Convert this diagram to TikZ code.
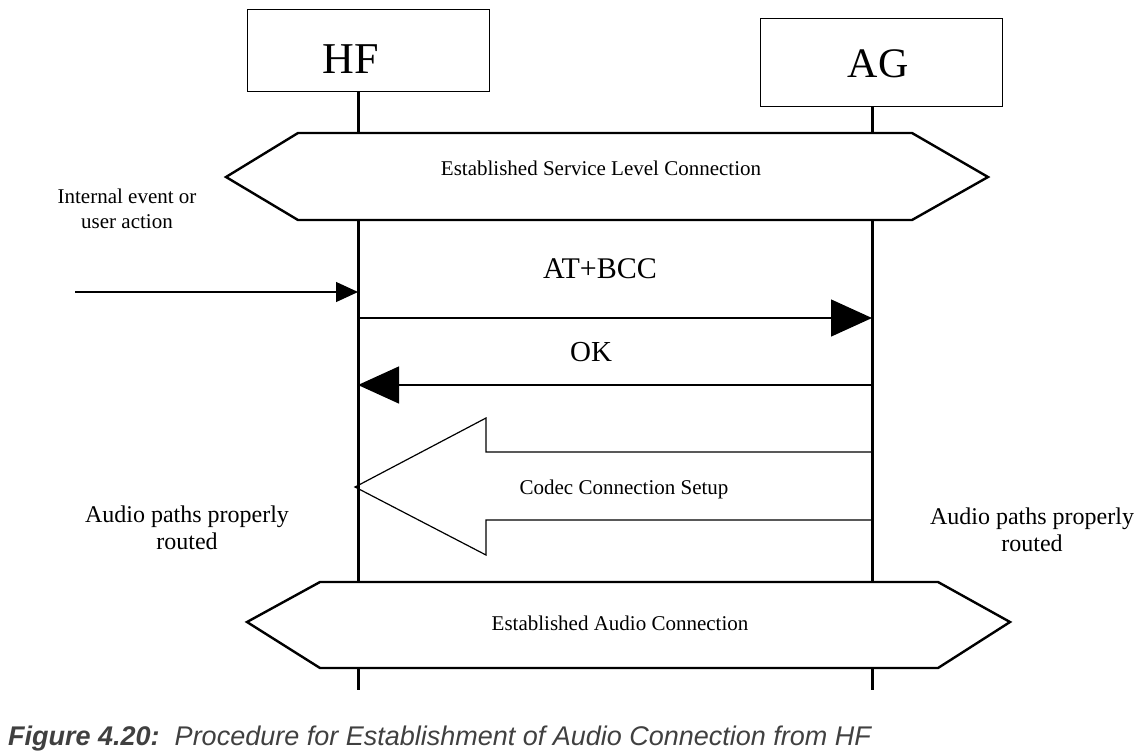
\documentclass[tikz,border=0pt]{standalone}
\usepackage{fontspec}
\setmainfont{Liberation Serif}
\newfontfamily\capfont{Liberation Sans}
\usetikzlibrary{arrows.meta}
\definecolor{capgray}{HTML}{404040}
\tikzset{
  entity/.style={draw, line width=1pt, minimum width=242pt, inner sep=0pt},
  lifeline/.style={line width=3pt},
  hexa/.style={draw, line width=2.4pt, fill=white, line join=miter},
  msg/.style={line width=1.4pt, -{Triangle[length=41pt,width=37pt]}},
  inmsg/.style={line width=1.2pt, -{Triangle[length=22pt,width=20pt]}},
  bigarrow/.style={draw, line width=1.2pt, line join=miter},
  lbl/.style={anchor=base, inner sep=0pt, font=\fontsize{21}{25}\selectfont},
  biglbl/.style={anchor=base, inner sep=0pt, font=\fontsize{30}{34}\selectfont},
  side/.style={anchor=base, inner sep=0pt, align=center, font=\fontsize{24}{27}\selectfont},
}
\begin{document}
\begin{tikzpicture}[x=1pt,y=-1pt]
\useasboundingbox (0,0) rectangle (1142,753);
% entity boxes
\node[entity, minimum height=82pt, anchor=north west] (hfbox) at (247,9) {};
\node[entity, minimum height=88pt, anchor=north west] (agbox) at (760,18) {};
\node[anchor=base, inner sep=0pt, font=\fontsize{44}{48}\selectfont] (hflbl) at (351,73) {HF};
\node[anchor=base, inner sep=0pt, font=\fontsize{42}{46}\selectfont] (aglbl) at (878,77) {AG};
% lifelines
\coordinate (hfend) at (358,690);
\coordinate (agend) at (872,690);
\draw[lifeline] (hfbox.south -| hfend) -- (hfend);
\draw[lifeline] (agbox.south -| agend) -- (agend);
% top hexagon
\path[hexa] (226,177) -- (298,133) -- (912,133) -- (988,177) -- (912,220) -- (298,220) -- cycle;
\node[lbl] (slc) at (601,175) {Established Service Level Connection};
% internal event
\node[side, font=\fontsize{21}{25}\selectfont] (ievent) at (127,228) {Internal event or\\user action};
\coordinate (instart) at (75,292);
\coordinate (hfin) at (358,292);
\draw[inmsg] (instart) -- (hfin);
% AT+BCC
\node[biglbl] (atbcc) at (600,278) {AT+BCC};
\coordinate (hf1) at (358,318);
\coordinate (ag1) at (872,318);
\draw[msg] (hf1) -- (ag1);
% OK
\node[biglbl, font=\fontsize{29}{33}\selectfont] (ok) at (591,361) {OK};
\coordinate (ag2) at (872,385);
\coordinate (hf2) at (358,385);
\draw[msg] (ag2) -- (hf2);
% codec connection setup big arrow
\path[bigarrow] (872,452) -- (486,452) -- (486,418) -- (355,487) -- (486,555) -- (486,520) -- (872,520);
\node[lbl] (codec) at (624,494) {Codec Connection Setup};
% audio paths
\node[side] (apl) at (187,549) {Audio paths properly\\routed};
\node[side] (apr) at (1032,551) {Audio paths properly\\routed};
% bottom hexagon
\path[hexa] (247,622) -- (320,582) -- (938,582) -- (1010,622) -- (938,668) -- (320,668) -- cycle;
\node[lbl] (eac) at (620,630) {Established Audio Connection};
% caption
\node[anchor=base west, inner sep=0pt, text=capgray, font=\capfont\fontsize{27}{31}\selectfont] (caption) at (8,745) {\textbf{\textit{Figure 4.20:}}\ \ \textit{Procedure for Establishment of Audio Connection from HF}};
\end{tikzpicture}
\end{document}
